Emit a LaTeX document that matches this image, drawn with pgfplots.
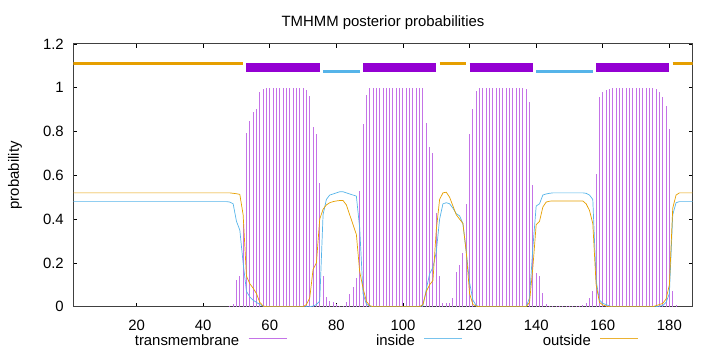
\documentclass[border=0pt]{standalone}
\usepackage{pgfplots}
\usepackage{pgfplotstable}
\pgfplotsset{compat=1.18}
\usepackage{fontspec}
\setmainfont{Liberation Sans}
\definecolor{tmc}{HTML}{9400D3}
\definecolor{tmimp}{HTML}{C473E7}
\definecolor{inc}{HTML}{56B4E9}
\definecolor{outc}{HTML}{E69F00}

% transmembrane posterior probability per residue (others are 0)
\pgfplotstableread{
x tm
48 0.003
49 0.012
50 0.12
51 0.14
52 0.38
53 0.795
54 0.85
55 0.89
56 0.905
57 0.98
58 0.995
59 1.0
60 1.0
61 1.0
62 1.0
63 1.0
64 1.0
65 1.0
66 1.0
67 1.0
68 1.0
69 1.0
70 0.997
71 0.99
72 0.963
73 0.82
74 0.79
75 0.566
76 0.138
77 0.046
78 0.026
79 0.02
80 0.013
81 0.005
82 0.004
83 0.02
84 0.057
85 0.092
86 0.13
87 0.53
88 0.833
89 0.968
90 0.997
91 1.0
92 1.0
93 1.0
94 1.0
95 1.0
96 1.0
97 1.0
98 1.0
99 1.0
100 1.0
101 1.0
102 1.0
103 1.0
104 1.0
105 1.0
106 1.0
107 0.84
108 0.73
109 0.70
110 0.43
111 0.14
112 0.015
113 0.015
114 0.015
115 0.038
116 0.16
117 0.19
118 0.245
119 0.47
120 0.79
121 0.905
122 0.986
123 0.997
124 1.0
125 1.0
126 1.0
127 1.0
128 1.0
129 1.0
130 1.0
131 1.0
132 1.0
133 1.0
134 1.0
135 1.0
136 1.0
137 0.994
138 0.933
139 0.554
140 0.153
141 0.138
142 0.061
143 0.012
144 0.005
145 0.002
146 0.002
147 0.002
148 0.002
149 0.002
150 0.002
151 0.002
152 0.002
153 0.004
154 0.008
155 0.015
156 0.038
157 0.073
158 0.604
159 0.956
160 0.98
161 0.99
162 0.995
163 1.0
164 1.0
165 1.0
166 1.0
167 1.0
168 1.0
169 1.0
170 1.0
171 1.0
172 1.0
173 1.0
174 1.0
175 1.0
176 0.995
177 0.98
178 0.96
179 0.915
180 0.81
181 0.072
182 0.01
}\tmtable

\pgfplotstableread{
x in
1 0.48
47 0.48
48 0.478
49 0.47
50 0.39
51 0.35
52 0.20
53 0.07
54 0.045
55 0.03
56 0.02
57 0.01
58 0.003
59 0
72 0
73 0.003
74 0.01
75 0.025
76 0.42
77 0.49
78 0.51
79 0.515
80 0.52
81 0.525
82 0.525
83 0.52
84 0.515
85 0.51
86 0.505
87 0.36
88 0.06
89 0.012
90 0.003
91 0
105 0
106 0.005
107 0.08
108 0.15
109 0.18
110 0.25
111 0.40
112 0.47
113 0.475
114 0.47
115 0.45
116 0.425
117 0.415
118 0.38
119 0.25
120 0.11
121 0.03
122 0.005
123 0
137 0
138 0.04
139 0.27
140 0.46
141 0.47
142 0.51
143 0.515
144 0.518
145 0.52
154 0.52
155 0.518
156 0.51
157 0.49
158 0.12
159 0.03
160 0.015
161 0.01
162 0.003
163 0
176 0
177 0.003
178 0.005
179 0.02
180 0.06
181 0.42
182 0.475
183 0.48
187 0.48
}\intable

\pgfplotstableread{
x out
1 0.52
48 0.52
49 0.518
50 0.516
51 0.513
52 0.42
53 0.14
54 0.105
55 0.085
56 0.06
57 0.02
58 0.003
59 0
70 0
71 0.01
72 0.04
73 0.17
74 0.2
75 0.40
76 0.445
77 0.465
78 0.475
79 0.48
80 0.483
81 0.485
82 0.485
83 0.465
84 0.42
85 0.375
86 0.33
87 0.16
88 0.085
89 0.025
90 0.005
91 0
105 0
106 0.01
107 0.07
108 0.1
109 0.12
110 0.35
111 0.49
112 0.52
113 0.523
114 0.50
115 0.46
116 0.42
117 0.40
118 0.38
119 0.25
120 0.06
121 0.01
122 0.003
123 0
137 0
138 0.02
139 0.18
140 0.375
141 0.39
142 0.455
143 0.478
144 0.482
145 0.483
154 0.483
155 0.47
156 0.44
157 0.38
158 0.1
159 0.02
160 0.008
161 0.003
162 0
175 0
176 0.005
177 0.01
178 0.015
179 0.035
180 0.1
181 0.45
182 0.51
183 0.52
187 0.52
}\outtable

\begin{document}
\begin{tikzpicture}[font=\fontsize{14.9bp}{17bp}\selectfont]
\useasboundingbox (-73.3bp,-45.3bp) rectangle (646.7bp,306.7bp);
\begin{axis}[
  at={(0,0)}, anchor=south west,
  scale only axis, width=619.4bp, height=262.7bp,
  xmin=1, xmax=187, ymin=0, ymax=1.2,
  xtick={20,40,60,80,100,120,140,160,180},
  ytick={0,0.2,0.4,0.6,0.8,1,1.2},
  /pgf/number format/assume math mode=true,
  tick align=inside,
  major tick length=4bp,
  every tick/.style={black, line width=0.8bp},
  axis line style={draw=black!75, line width=1bp},
  xticklabel style={yshift=-10bp},
  yticklabel style={xshift=-6bp},
  title={TMHMM posterior probabilities},
  every axis title/.style={at={(axis description cs:0.5,1)}, anchor=base, yshift=17.3bp},
  ylabel={probability},
  ylabel style={at={(axis description cs:-0.094,0.5)}, anchor=center},
  legend image code/.code={\draw[#1] (0bp,0.3em) -- (38bp,0.3em);},
  legend columns=3,
  legend plot pos=right,
  legend style={draw=none, fill=none, inner sep=0pt,
    at={(axis description cs:0.098,-0.1306)}, anchor=west,
    nodes={inner sep=0pt},
    /tikz/every odd column/.append style={column sep=9bp},
    /tikz/every even column/.append style={column sep=23bp}},
]
% region indicator segments at the top
\addplot[outc, line width=3bp, forget plot] coordinates {(1,1.113) (52,1.113)};
\addplot[tmc, line width=9.4bp, forget plot] coordinates {(53,1.094) (75,1.094)};
\addplot[inc, line width=3bp, forget plot] coordinates {(76,1.076) (87,1.076)};
\addplot[tmc, line width=9.4bp, forget plot] coordinates {(88,1.094) (110,1.094)};
\addplot[outc, line width=3bp, forget plot] coordinates {(111,1.113) (119,1.113)};
\addplot[tmc, line width=9.4bp, forget plot] coordinates {(120,1.094) (139,1.094)};
\addplot[inc, line width=3bp, forget plot] coordinates {(140,1.076) (157,1.076)};
\addplot[tmc, line width=9.4bp, forget plot] coordinates {(158,1.094) (180,1.094)};
\addplot[outc, line width=3bp, forget plot] coordinates {(181,1.113) (187,1.113)};
% posterior probabilities
\addplot[ycomb, tmimp, line width=1bp, no markers, forget plot]
  table[x=x, y=tm] {\tmtable};
\addplot[inc, line width=0.7bp, no markers, forget plot]
  table[x=x, y=in] {\intable};
\addplot[outc, line width=0.7bp, no markers, forget plot]
  table[x=x, y=out] {\outtable};
% legend
\addlegendimage{tmimp, line width=0.8bp}
\addlegendentry{\makebox[105bp][r]{transmembrane}}
\addlegendimage{inc!80, line width=0.8bp}
\addlegendentry{\makebox[105bp][r]{inside}}
\addlegendimage{outc!80, line width=0.8bp}
\addlegendentry{\makebox[105bp][r]{outside}}
\end{axis}
\end{tikzpicture}
\end{document}
